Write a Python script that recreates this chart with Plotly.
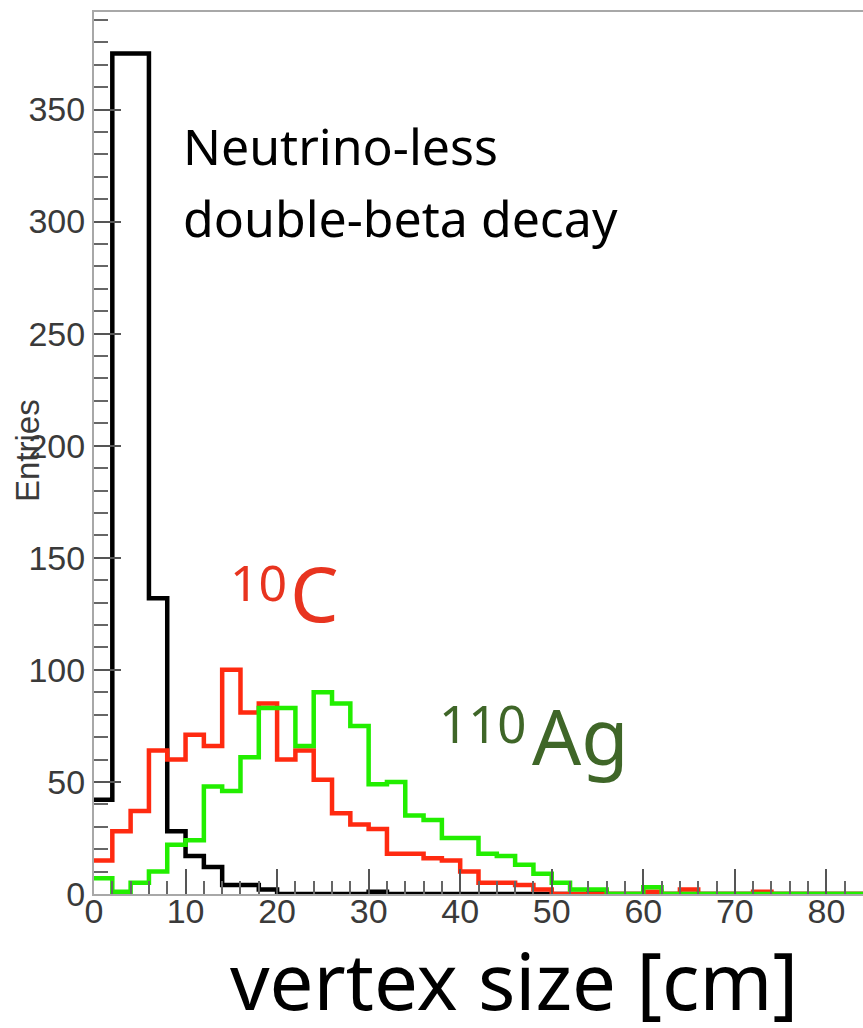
import numpy as np
import plotly.graph_objects as go

# ---------------- data (bin width 2 cm, bins start at 0) ----------------
bin_width = 2.0
black_counts = [42, 375, 375, 132, 28, 17, 12, 4, 4, 2,
                0, 0, 0, 0, 0, 1, 0, 0, 0, 0,
                0, 0, 0, 0, 0, 0, 0, 1, 0, 0,
                0, 0, 0, 0, 0, 0, 0, 0, 0, 0,
                0, 0, 0, 0, 0, 0, 0, 0, 0, 0]
red_counts = [15, 28, 37, 64, 60, 71, 66, 100, 81, 85,
              60, 64, 51, 36, 31, 29, 18, 18, 16, 15,
              10, 5, 5, 4, 2, 0, 0, 0, 0, 0,
              1, 0, 2, 0, 0, 0, 1, 0, 0, 0,
              0, 0, 0, 0, 0, 0, 0, 0, 0, 0]
green_counts = [7, 1, 5, 10, 22, 24, 48, 46, 61, 83,
                83, 66, 90, 85, 75, 49, 50, 35, 33, 25,
                25, 18, 17, 13, 9, 5, 2, 2, 0, 0,
                3, 0, 0, 0, 0, 0, 0, 0, 0, 0,
                0, 0, 0, 0, 0, 0, 0, 0, 0, 0]

x_tick_vals = [0, 10, 20, 30, 40, 50, 60, 70, 80]
y_tick_vals = [0, 50, 100, 150, 200, 250, 300, 350]

# ---------------- layout geometry ----------------
W, H = 863, 1028
L, R, T, B = 94, 0, 12, 134
PW, PH = W - L - R, H - T - B


def px_x(p):
    return (p - L) / PW


def px_y(p):
    return (H - B - p) / PH


def step(counts):
    edges = np.arange(len(counts) + 1) * bin_width
    return edges, list(counts) + [counts[-1]]


fig = go.Figure()
for counts, col in [(black_counts, "#000000"),
                    (red_counts, "#ff2a10"),
                    (green_counts, "#22ee00")]:
    xs, ys = step(counts)
    fig.add_trace(go.Scatter(x=xs, y=ys, mode="lines", line_shape="hv",
                             line=dict(color=col, width=4.5),
                             showlegend=False, hoverinfo="skip"))

tick_font = dict(family="Liberation Sans, Arial, sans-serif", size=34, color="#3a3a3a")

fig.update_layout(
    width=W, height=H,
    margin=dict(l=L, r=R, t=T, b=B, pad=0),
    paper_bgcolor="white", plot_bgcolor="white",
    xaxis=dict(range=[0, 84], showgrid=False, zeroline=False,
               showline=True, mirror=True, linecolor="#a8a8a8", linewidth=2,
               ticks="inside", ticklen=25, tickwidth=2, tickcolor="#555555",
               tickvals=x_tick_vals, tickfont=tick_font,
               ticklabelstandoff=-14,
               minor=dict(ticks="inside", ticklen=13, tickwidth=2,
                          tickcolor="#666666", dtick=2, showgrid=False)),
    yaxis=dict(range=[0, 393.5], showgrid=False, zeroline=False,
               showline=True, mirror=False, linecolor="#a8a8a8", linewidth=2,
               ticks="inside", ticklen=27, tickwidth=2, tickcolor="#555555",
               tickvals=y_tick_vals, tickfont=tick_font,
               ticklabelstandoff=0,
               minor=dict(ticks="inside", ticklen=14, tickwidth=2,
                          tickcolor="#666666", dtick=10, showgrid=False)),
)

ann_font = "Noto Sans, DejaVu Sans, sans-serif"
red_txt = "#e8341f"
green_txt = "#3f6628"
anns = [
    dict(text="Neutrino-less", x=px_x(181), y=px_y(146), xanchor="left", yanchor="middle",
         font=dict(family=ann_font, size=50, color="black")),
    dict(text="double-beta decay", x=px_x(181), y=px_y(218), xanchor="left", yanchor="middle",
         font=dict(family=ann_font, size=50, color="black")),
    # 10C
    dict(text="10", x=px_x(228), y=px_y(582), xanchor="left", yanchor="middle",
         font=dict(family=ann_font, size=50, color=red_txt)),
    dict(text="C", x=px_x(288), y=px_y(592), xanchor="left", yanchor="middle",
         font=dict(family=ann_font, size=77, color=red_txt)),
    # 110Ag
    dict(text="110", x=px_x(437), y=px_y(723), xanchor="left", yanchor="middle",
         font=dict(family=ann_font, size=51, color=green_txt)),
    dict(text="Ag", x=px_x(530), y=px_y(735), xanchor="left", yanchor="middle",
         font=dict(family=ann_font, size=77, color=green_txt)),
    dict(text="vertex size [cm]", x=px_x(514), y=px_y(980), xanchor="center", yanchor="middle",
         font=dict(family=ann_font, size=78, color="black")),
    dict(text="Entries", x=px_x(28), y=px_y(451), xanchor="center", yanchor="middle",
         textangle=-90,
         font=dict(family="Liberation Sans, Arial, sans-serif", size=33, color="#3a3a3a")),
]
for a in anns:
    a.update(xref="paper", yref="paper", showarrow=False)
    fig.add_annotation(**a)

fig.write_html("out.html")
